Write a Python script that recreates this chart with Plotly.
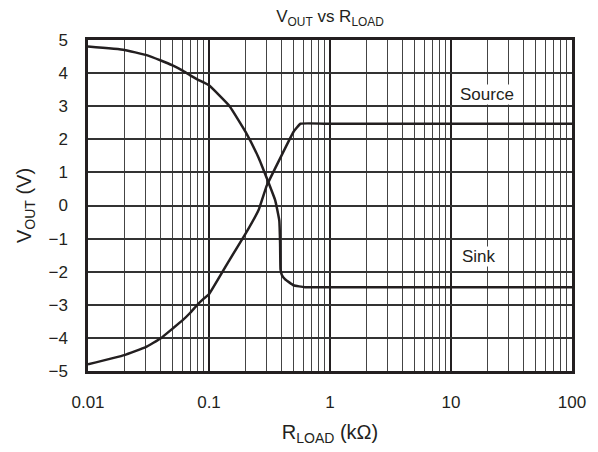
import math
import plotly.graph_objects as go

# curve that starts high (+4.8 V) and settles on the sink rail
r_fall = [0.01, 0.02, 0.03, 0.04, 0.05, 0.06, 0.07, 0.08, 0.1, 0.148, 0.2, 0.258,
          0.3, 0.353, 0.381, 0.387, 0.39, 0.4, 0.426, 0.5, 0.62, 1, 10, 100]
v_fall = [4.80, 4.70, 4.55, 4.38, 4.23, 4.08, 3.93, 3.81, 3.63, 3.0, 2.23, 1.43,
          0.83, 0.15, -0.45, -1.16, -1.93, -2.1, -2.23, -2.41, -2.47, -2.47, -2.47, -2.47]

# curve that starts low (-4.8 V) and settles on the source rail
r_rise = [0.01, 0.02, 0.03, 0.04, 0.05, 0.06, 0.07, 0.08, 0.09, 0.1, 0.148, 0.2,
          0.258, 0.3, 0.353, 0.5, 0.57, 1, 10, 100]
v_rise = [-4.80, -4.52, -4.28, -4.01, -3.72, -3.48, -3.24, -3.0, -2.82, -2.68, -1.64, -0.86,
          -0.12, 0.6, 1.13, 2.23, 2.47, 2.47, 2.47, 2.47]

x_ticks = [0.01, 0.1, 1, 10, 100]
x_labels = ["0.01", "0.1", "1", "10", "100"]
y_ticks = [-5, -4, -3, -2, -1, 0, 1, 2, 3, 4, 5]
y_labels = ["\u22125", "\u22124", "\u22123", "\u22122", "\u22121", "0", "1", "2", "3", "4", "5"]

labels = [("Source", 20, 3.36), ("Sink", 17, -1.55)]

INK = "#231f20"
FONT = "Liberation Sans, Arial, sans-serif"

fig = go.Figure()
for xs, ys in [(r_fall, v_fall), (r_rise, v_rise)]:
    fig.add_trace(go.Scatter(x=xs, y=ys, mode="lines",
                             line=dict(color=INK, width=2.5, shape="spline", smoothing=0.3),
                             showlegend=False, hoverinfo="skip"))

for txt, xv, yv in labels:
    # log axis: annotation x is given in log10 units
    fig.add_annotation(x=math.log10(xv), y=yv, xref="x", yref="y", text=txt, showarrow=False,
                       font=dict(size=17, color=INK, family=FONT),
                       bgcolor="white", borderpad=0)

fig.update_layout(
    width=598, height=452,
    margin=dict(l=88, r=14, t=40, b=76),
    plot_bgcolor="white", paper_bgcolor="white",
    font=dict(family=FONT, size=17, color=INK),
    title=dict(text="V<sub>OUT</sub> vs R<sub>LOAD</sub>", xref="paper", x=0.5, xanchor="center",
               y=1 - 16 / 452, yanchor="middle", font=dict(size=17)),
)

fig.update_xaxes(
    type="log", range=[-2, 2],
    tickvals=x_ticks, ticktext=x_labels, ticks="", ticklabelstandoff=14,
    showgrid=True, gridcolor=INK, gridwidth=2,
    minor=dict(dtick="D1", showgrid=True, gridcolor="#444", gridwidth=1, ticks=""),
    showline=True, linecolor=INK, linewidth=2.5, mirror=True,
    title=dict(text="R<sub>LOAD</sub> (k\u03a9)", standoff=14),
    zeroline=False,
)
fig.update_yaxes(
    range=[-5, 5],
    tickvals=y_ticks, ticktext=y_labels, ticks="", ticklabelstandoff=14,
    showgrid=True, gridcolor="#333", gridwidth=1.5,
    showline=True, linecolor=INK, linewidth=2.5, mirror=True,
    title=dict(text="V<sub>OUT</sub> (V)", standoff=12),
    zeroline=False,
)

# drop the default 8px body margin so the figure sits at the window's corner
fig.write_html("out.html", config={"displayModeBar": False},
               post_script="document.body.style.margin = '0';")
